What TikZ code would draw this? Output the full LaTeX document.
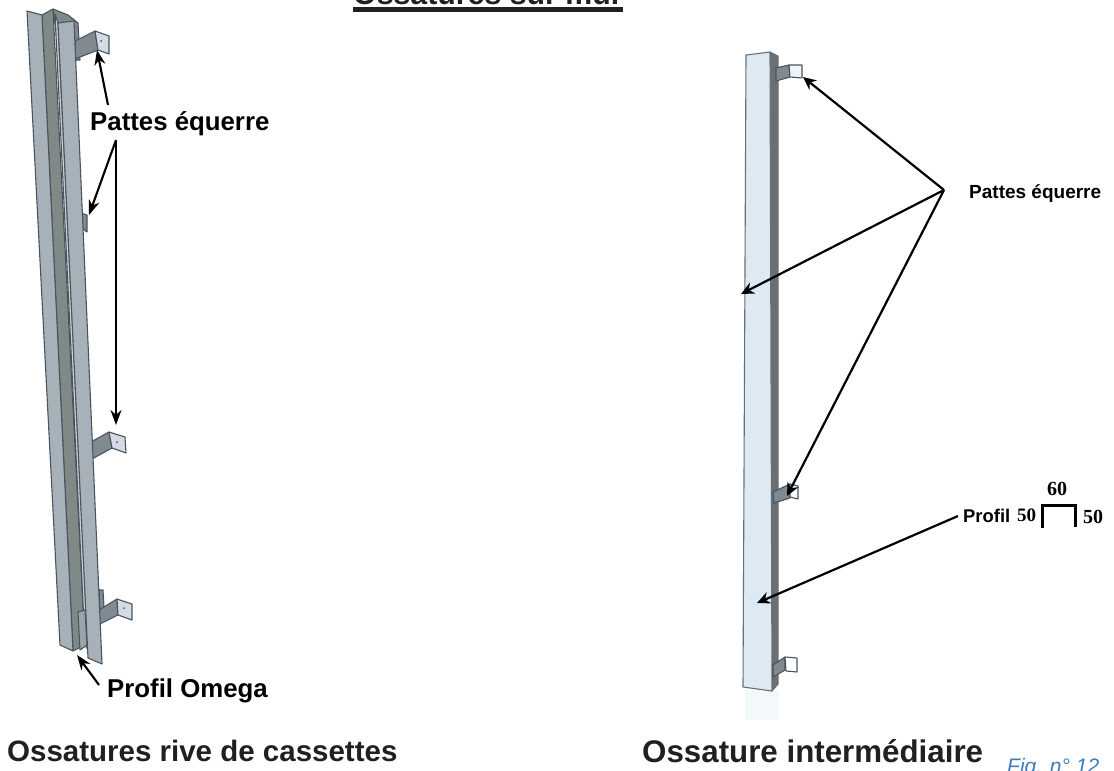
\documentclass[tikz,border=0pt]{standalone}
\usepackage{fontspec}
\setmainfont{Liberation Sans}
\newfontfamily\chiffres{Liberation Serif}
\usetikzlibrary{arrows.meta}
\definecolor{arete}{HTML}{4A545D}
\definecolor{aile}{HTML}{A6B1BA}
\definecolor{gorge}{HTML}{7F8A88}
\definecolor{face}{HTML}{DDEAF4}
\definecolor{flanc}{HTML}{6A6F73}
\definecolor{patte}{HTML}{7F8A92}
\definecolor{plaque}{HTML}{D5DBE6}
\definecolor{encre}{HTML}{231F20}
\definecolor{bleufig}{HTML}{3F7CBF}
\tikzset{
	tole/.style={draw=arete, line width=1.1pt, line join=round},
	fleche/.style={-{Stealth[length=15pt,width=11pt]}, line width=2.1pt},
	flechefine/.style={-{Stealth[length=13pt,width=12pt]}, line width=2.2pt},
	legende/.style={inner sep=0pt, anchor=base west, font=\bfseries},
	titre/.style={inner sep=0pt, anchor=base west, text=encre, font=\bfseries},
}
\begin{document}
\begin{tikzpicture}[x=1pt, y=-1pt]
	\useasboundingbox (0, 0) rectangle (1114, 771);
	% left profile
	\draw[tole, fill=gorge] (53, 9) -- (68, 15) -- (78, 23) -- (80, 60) -- (60, 60) -- cycle;
	\draw[tole, fill=gorge] (42, 15) -- (53, 9) -- (85, 645) -- (73, 651) -- cycle;
	\draw[tole, fill=aile] (27, 11) -- (42, 15) -- (73, 651) -- (60, 645) -- cycle;
	\draw[tole, fill=aile!60!white] (55, 14) -- (58, 23) -- (88, 650) -- (85, 645) -- cycle;
	\draw[tole, fill=aile!70!gorge] (78, 612) -- (85, 610) -- (87, 645) -- (80, 650) -- cycle;
	% small tabs behind the profile
	\draw[tole, fill=patte] (81, 213) -- (87, 215) -- (87, 232) -- (83, 229) -- cycle;
	\draw[tole, fill=patte] (99, 590) -- (103, 590) -- (104, 607) -- (100, 611) -- cycle;
	% brackets
	\draw[tole, fill=patte] (75, 41) -- (95, 31) -- (98, 50) -- (75, 59) -- cycle;
	\draw[tole, fill=plaque] (95, 31) -- (109, 36) -- (109, 54) -- (98, 50) -- cycle;
	\draw[tole, fill=patte] (91, 442) -- (109, 432) -- (112, 448) -- (92, 459) -- cycle;
	\draw[tole, fill=plaque] (109, 432) -- (125, 437) -- (126, 453) -- (112, 448) -- cycle;
	\draw[tole, fill=patte] (99, 610) -- (117, 599) -- (118, 615) -- (100, 624) -- cycle;
	\draw[tole, fill=plaque] (117, 599) -- (132, 604) -- (132, 620) -- (118, 615) -- cycle;
	\foreach \hx/\hy in {101/41, 117/442, 124/608}
		\fill[arete] (\hx, \hy) circle (1pt);
	% right flange of left profile
	\draw[tole, fill=aile] (58, 23) -- (74, 21) -- (102, 664) -- (88, 658) -- cycle;

	% right profile
	\fill[face!35!white] (745, 690) rectangle (779, 720);
	\draw[tole, fill=flanc, draw=flanc] (770, 52) -- (778, 56) -- (778, 684) -- (772, 691) -- cycle;
	\draw[tole, fill=face, draw=flanc] (746, 55) -- (770, 52) -- (772, 691) -- (743, 687) -- cycle;
	\draw[tole, fill=patte] (776, 68) -- (789, 65) -- (790, 77) -- (776, 81) -- cycle;
	\draw[tole, fill=face!50!white] (789, 65) -- (802, 65) -- (802, 78) -- (790, 77) -- cycle;
	\draw[tole, fill=patte] (773, 492) -- (790, 484) -- (790, 498) -- (774, 503) -- cycle;
	\draw[tole, fill=white] (790, 484) -- (798, 486) -- (798, 499) -- (790, 497) -- cycle;
	\draw[tole, fill=patte] (773, 665) -- (785, 657) -- (785, 670) -- (773, 677) -- cycle;
	\draw[tole, fill=white] (785, 657) -- (797, 658) -- (797, 672) -- (786, 671) -- cycle;

	% labels
	\node[titre, font=\bfseries\fontsize{30.3}{34}\selectfont] (titremur) at (353, 5) {Ossatures sur mur};
	\draw[encre, line width=4.5pt] ([yshift=-4.5pt]titremur.base west) -- ([yshift=-4.5pt]titremur.base east);
	\node[legende, font=\bfseries\fontsize{25.8}{30}\selectfont] (pattesg) at (90, 130) {Pattes équerre};
	\node[legende, font=\bfseries\fontsize{25.8}{30}\selectfont] (omega) at (107, 697) {Profil Omega};
	\node[legende, font=\bfseries\fontsize{19}{22}\selectfont] (pattesd) at (969, 198) {Pattes équerre};
	\node[legende, font=\bfseries\fontsize{18.4}{22}\selectfont] (profil) at (963, 522) {Profil};
	\node[legende, font=\bfseries\chiffres\fontsize{19}{22}\selectfont] (cote1) at (1017, 521) {50};
	\node[legende, font=\bfseries\chiffres\fontsize{20}{22}\selectfont] (cote2) at (1083, 523) {50};
	\node[legende, font=\bfseries\chiffres\fontsize{20}{22}\selectfont] (cote3) at (1047, 495) {60};
	\node[titre, font=\bfseries\fontsize{29.5}{34}\selectfont] (rive) at (7, 761) {Ossatures rive de cassettes};
	\node[titre, font=\bfseries\fontsize{31.3}{34}\selectfont] (inter) at (642, 762) {Ossature intermédiaire};
	\node[inner sep=0pt, anchor=base west, text=bleufig, font=\itshape\fontsize{21}{24}\selectfont] (fig) at (1007, 773) {Fig. n° 12};

	% profile section
	\coordinate (sec1) at (1042, 528);
	\coordinate (sec2) at (1075, 527);
	\draw[line width=3pt] (sec1) -- (1042, 505) -- (1075, 505) -- (sec2);

	% arrows, left
	\coordinate (d1) at (108, 105);
	\coordinate (d2) at (116, 140);
	\coordinate (d3) at (99, 685);
	\coordinate (t1) at (97, 50);
	\coordinate (t2) at (89, 215);
	\coordinate (t3) at (116, 425);
	\coordinate (t4) at (77, 655);
	\draw[fleche] (d1) -- (t1);
	\draw[fleche] (d2) -- (t2);
	\draw[fleche] (d2) -- (t3);
	\draw[fleche] (d3) -- (t4);

	% arrows, right
	\coordinate (hub) at (944, 190);
	\coordinate (start) at (958, 516);
	\coordinate (r1) at (803, 77);
	\coordinate (r2) at (741, 294);
	\coordinate (r3) at (787, 496);
	\coordinate (r4) at (757, 603);
	\draw[flechefine] (hub) -- (r1);
	\draw[flechefine] (hub) -- (r2);
	\draw[flechefine] (hub) -- (r3);
	\draw[flechefine] (start) -- (r4);
\end{tikzpicture}
\end{document}
